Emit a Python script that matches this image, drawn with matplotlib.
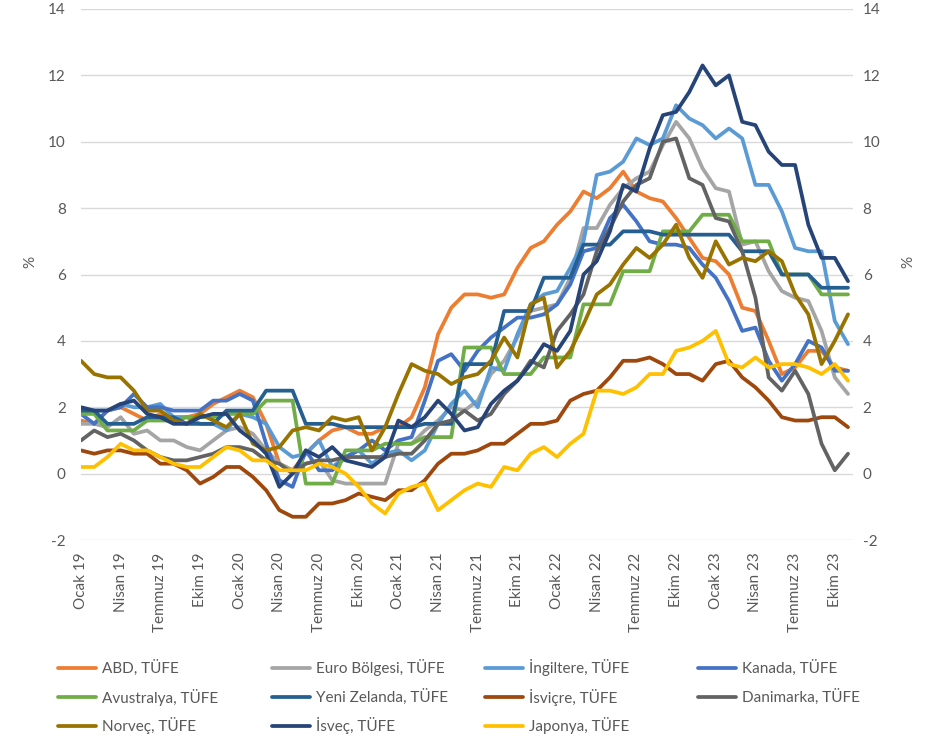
import numpy as np
import matplotlib.pyplot as plt
import matplotlib.transforms as mtransforms
from matplotlib.lines import Line2D

plt.rcParams['font.family'] = ['Lato', 'DejaVu Sans']
plt.rcParams['axes.unicode_minus'] = False

W, H = 952, 742

# aylik yillik TUFE, Ocak 2019 - Kasim 2023
tick_labels = ["Ocak 19", "Nisan 19", "Temmuz 19", "Ekim 19",
               "Ocak 20", "Nisan 20", "Temmuz 20", "Ekim 20",
               "Ocak 21", "Nisan 21", "Temmuz 21", "Ekim 21",
               "Ocak 22", "Nisan 22", "Temmuz 22", "Ekim 22",
               "Ocak 23", "Nisan 23", "Temmuz 23", "Ekim 23"]

abd = [1.6, 1.5, 1.9, 2.0, 1.8, 1.6, 1.8, 1.7, 1.7, 1.8, 2.1, 2.3,
       2.5, 2.3, 1.5, 0.3, 0.1, 0.6, 1.0, 1.3, 1.4, 1.2, 1.2, 1.4,
       1.4, 1.7, 2.6, 4.2, 5.0, 5.4, 5.4, 5.3, 5.4, 6.2, 6.8, 7.0,
       7.5, 7.9, 8.5, 8.3, 8.6, 9.1, 8.5, 8.3, 8.2, 7.7, 7.1, 6.5,
       6.4, 6.0, 5.0, 4.9, 4.0, 3.0, 3.2, 3.7, 3.7, 3.2, 3.1]
euro = [1.5, 1.5, 1.4, 1.7, 1.2, 1.3, 1.0, 1.0, 0.8, 0.7, 1.0, 1.3,
        1.4, 1.2, 0.7, 0.3, 0.1, 0.3, 0.4, -0.2, -0.3, -0.3, -0.3, -0.3,
        0.9, 0.9, 1.3, 1.6, 2.0, 1.9, 2.2, 3.0, 3.4, 4.1, 4.9, 5.0,
        5.1, 5.9, 7.4, 7.4, 8.1, 8.6, 8.9, 9.1, 9.9, 10.6, 10.1, 9.2,
        8.6, 8.5, 6.9, 7.0, 6.1, 5.5, 5.3, 5.2, 4.3, 2.9, 2.4]
ingiltere = [1.8, 1.9, 1.9, 2.1, 2.0, 2.0, 2.1, 1.7, 1.7, 1.5, 1.5, 1.3,
             1.8, 1.7, 1.5, 0.8, 0.5, 0.6, 1.0, 0.2, 0.5, 0.7, 0.3, 0.6,
             0.7, 0.4, 0.7, 1.5, 2.1, 2.5, 2.0, 3.2, 3.1, 4.2, 5.1, 5.4,
             5.5, 6.2, 7.0, 9.0, 9.1, 9.4, 10.1, 9.9, 10.1, 11.1, 10.7, 10.5,
             10.1, 10.4, 10.1, 8.7, 8.7, 7.9, 6.8, 6.7, 6.7, 4.6, 3.9]
kanada = [1.8, 1.5, 1.9, 2.0, 2.4, 2.0, 2.0, 1.9, 1.9, 1.9, 2.2, 2.2,
          2.4, 2.2, 0.9, -0.2, -0.4, 0.7, 0.1, 0.1, 0.5, 0.7, 1.0, 0.7,
          1.0, 1.1, 2.2, 3.4, 3.6, 3.1, 3.7, 4.1, 4.4, 4.7, 4.7, 4.8,
          5.1, 5.7, 6.7, 6.8, 7.7, 8.1, 7.6, 7.0, 6.9, 6.9, 6.8, 6.3,
          5.9, 5.2, 4.3, 4.4, 3.4, 2.8, 3.3, 4.0, 3.8, 3.1, 3.1]
avustralya = [1.8, 1.8, 1.3, 1.3, 1.3, 1.6, 1.6, 1.6, 1.7, 1.7, 1.7, 1.8,
              1.8, 1.8, 2.2, 2.2, 2.2, -0.3, -0.3, -0.3, 0.7, 0.7, 0.7, 0.9,
              0.9, 0.9, 1.1, 1.1, 1.1, 3.8, 3.8, 3.8, 3.0, 3.0, 3.0, 3.5,
              3.5, 3.5, 5.1, 5.1, 5.1, 6.1, 6.1, 6.1, 7.3, 7.3, 7.3, 7.8,
              7.8, 7.8, 7.0, 7.0, 7.0, 6.0, 6.0, 6.0, 5.4, 5.4, 5.4]
yeni_zelanda = [1.9, 1.9, 1.5, 1.5, 1.5, 1.7, 1.7, 1.7, 1.5, 1.5, 1.5, 1.9,
                1.9, 1.9, 2.5, 2.5, 2.5, 1.5, 1.5, 1.5, 1.4, 1.4, 1.4, 1.4,
                1.4, 1.4, 1.5, 1.5, 1.5, 3.3, 3.3, 3.3, 4.9, 4.9, 4.9, 5.9,
                5.9, 5.9, 6.9, 6.9, 6.9, 7.3, 7.3, 7.3, 7.2, 7.2, 7.2, 7.2,
                7.2, 7.2, 6.7, 6.7, 6.7, 6.0, 6.0, 6.0, 5.6, 5.6, 5.6]
isvicre = [0.7, 0.6, 0.7, 0.7, 0.6, 0.6, 0.3, 0.3, 0.1, -0.3, -0.1, 0.2,
           0.2, -0.1, -0.5, -1.1, -1.3, -1.3, -0.9, -0.9, -0.8, -0.6, -0.7, -0.8,
           -0.5, -0.5, -0.2, 0.3, 0.6, 0.6, 0.7, 0.9, 0.9, 1.2, 1.5, 1.5,
           1.6, 2.2, 2.4, 2.5, 2.9, 3.4, 3.4, 3.5, 3.3, 3.0, 3.0, 2.8,
           3.3, 3.4, 2.9, 2.6, 2.2, 1.7, 1.6, 1.6, 1.7, 1.7, 1.4]
danimarka = [1.0, 1.3, 1.1, 1.2, 1.0, 0.7, 0.5, 0.4, 0.4, 0.5, 0.6, 0.8,
             0.8, 0.7, 0.4, 0.3, 0.0, 0.3, 0.4, 0.4, 0.5, 0.5, 0.5, 0.5,
             0.6, 0.6, 1.0, 1.5, 1.6, 1.9, 1.6, 1.8, 2.4, 2.8, 3.4, 3.2,
             4.3, 4.8, 5.4, 6.7, 7.4, 8.2, 8.7, 8.9, 10.0, 10.1, 8.9, 8.7,
             7.7, 7.6, 6.7, 5.3, 2.9, 2.5, 3.1, 2.4, 0.9, 0.1, 0.6]
norvec = [3.4, 3.0, 2.9, 2.9, 2.5, 1.9, 1.9, 1.6, 1.5, 1.8, 1.6, 1.4,
          1.8, 0.9, 0.7, 0.8, 1.3, 1.4, 1.3, 1.7, 1.6, 1.7, 0.7, 1.4,
          2.4, 3.3, 3.1, 3.0, 2.7, 2.9, 3.0, 3.4, 4.1, 3.5, 5.1, 5.3,
          3.2, 3.7, 4.5, 5.4, 5.7, 6.3, 6.8, 6.5, 6.9, 7.5, 6.5, 5.9,
          7.0, 6.3, 6.5, 6.4, 6.7, 6.4, 5.4, 4.8, 3.3, 4.0, 4.8]
isvec = [2.0, 1.9, 1.9, 2.1, 2.2, 1.8, 1.7, 1.5, 1.5, 1.7, 1.8, 1.8,
         1.3, 1.0, 0.6, -0.4, 0.0, 0.7, 0.5, 0.8, 0.4, 0.3, 0.2, 0.5,
         1.6, 1.4, 1.7, 2.2, 1.8, 1.3, 1.4, 2.1, 2.5, 2.8, 3.3, 3.9,
         3.7, 4.3, 6.0, 6.4, 7.3, 8.7, 8.5, 9.8, 10.8, 10.9, 11.5, 12.3,
         11.7, 12.0, 10.6, 10.5, 9.7, 9.3, 9.3, 7.5, 6.5, 6.5, 5.8]
japonya = [0.2, 0.2, 0.5, 0.9, 0.7, 0.7, 0.5, 0.3, 0.2, 0.2, 0.5, 0.8,
           0.7, 0.4, 0.4, 0.1, 0.1, 0.1, 0.3, 0.2, 0.0, -0.4, -0.9, -1.2,
           -0.6, -0.4, -0.3, -1.1, -0.8, -0.5, -0.3, -0.4, 0.2, 0.1, 0.6, 0.8,
           0.5, 0.9, 1.2, 2.5, 2.5, 2.4, 2.6, 3.0, 3.0, 3.7, 3.8, 4.0,
           4.3, 3.3, 3.2, 3.5, 3.2, 3.3, 3.3, 3.2, 3.0, 3.3, 2.8]

series = [
    ("ABD, TÜFE", abd, "#ED7D31"),
    ("Euro Bölgesi, TÜFE", euro, "#A5A5A5"),
    ("İngiltere, TÜFE", ingiltere, "#5B9BD5"),
    ("Kanada, TÜFE", kanada, "#4472C4"),
    ("Avustralya, TÜFE", avustralya, "#70AD47"),
    ("Yeni Zelanda, TÜFE", yeni_zelanda, "#255E91"),
    ("İsviçre, TÜFE", isvicre, "#9E480E"),
    ("Danimarka, TÜFE", danimarka, "#636363"),
    ("Norveç, TÜFE", norvec, "#997300"),
    ("İsveç, TÜFE", isvec, "#264478"),
    ("Japonya, TÜFE", japonya, "#FFC000"),
]

txt = "#595959"
lw = 2.7
fig = plt.figure(figsize=(W / 100, H / 100), dpi=100)
ax = fig.add_axes([81 / W, 1 - 540 / H, (853 - 81) / W, (540 - 9) / H])

x = np.arange(len(abd))
for name, vals, col in series:
    ax.plot(x, vals, color=col, lw=lw, solid_joinstyle='round', solid_capstyle='round', label=name)

ax.set_xlim(0, (len(abd) - 1) * 772 / 767)
ax.set_ylim(-2, 14)
ax.set_yticks(range(-2, 15, 2))
ax.set_xticks(x[::3])
ax.set_xticklabels(tick_labels, rotation=90, fontsize=11, color=txt)
# excel puts the rotated labels a few px right of the point
shift = mtransforms.ScaledTranslation(5 / 100, 0, fig.dpi_scale_trans)
for lab in ax.get_xticklabels():
    lab.set_transform(lab.get_transform() + shift)
ax.grid(axis='y', color='#D9D9D9', lw=1)
ax.set_axisbelow(True)
for s in ax.spines.values():
    s.set_visible(False)
ax.tick_params(axis='both', length=0, labelsize=11, labelcolor=txt)
ax.tick_params(axis='x', pad=9)
ax.tick_params(axis='y', pad=11)

ax2 = ax.twinx()
ax2.set_ylim(-2, 14)
ax2.set_yticks(range(-2, 15, 2))
for s in ax2.spines.values():
    s.set_visible(False)
ax2.tick_params(axis='y', length=0, labelsize=11, labelcolor=txt, pad=7)

fig.text(30 / W, 1 - 262 / H, "%", rotation=90, ha='center', va='center', fontsize=11, color=txt)
fig.text(908 / W, 1 - 262 / H, "%", rotation=90, ha='center', va='center', fontsize=11, color=txt)

# legend, 4 sutun x 3 satir
col_x = [58, 272, 485, 698]
row_y = [668, 697, 726]
for k, (name, vals, col) in enumerate(series):
    r, c = divmod(k, 4)
    y = 1 - row_y[r] / H
    x0 = col_x[c] / W
    fig.add_artist(Line2D([x0, x0 + 38 / W], [y, y], color=col, lw=lw,
                          solid_capstyle='round', transform=fig.transFigure))
    fig.text(x0 + 44 / W, y, name, ha='left', va='center', fontsize=11, color=txt)

fig.savefig("out.png", dpi=100)
